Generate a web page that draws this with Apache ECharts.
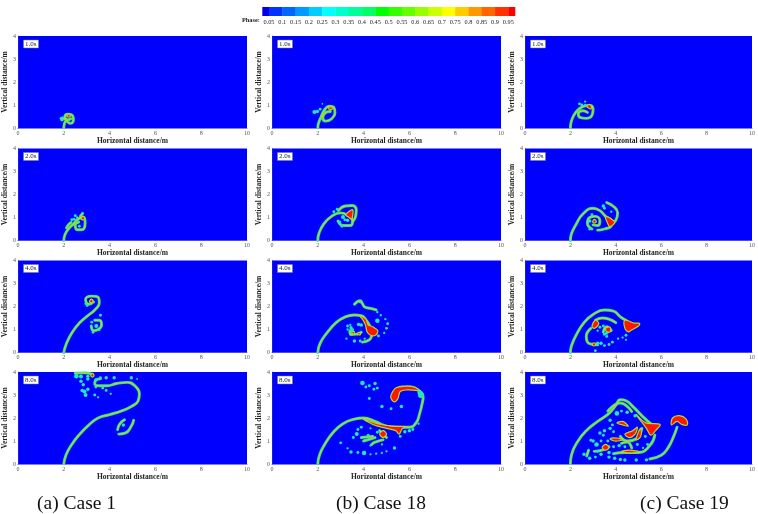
<!DOCTYPE html>
<html><head><meta charset="utf-8">
<style>html,body{margin:0;padding:0;background:#fff}#c{width:758px;height:514px;filter:blur(0.45px)}</style>
<script src="https://cdn.jsdelivr.net/npm/echarts@6/dist/echarts.min.js"></script>
</head><body><div id="c"></div>
<script>
// ---------- shared labels ----------
const xTicks = [0, 2, 4, 6, 8, 10];
const yTicks = [0, 1, 2, 3, 4];
const timeLabels = ['1.0s', '2.0s', '4.0s', '8.0s'];
const caseCaptions = ['(a) Case 1', '(b) Case 18', '(c) Case 19'];
const xName = 'Horizontal distance/m';
const yName = 'Vertical distance/m';
const phaseLevels = [0.05,0.1,0.15,0.2,0.25,0.3,0.35,0.4,0.45,0.5,0.55,0.6,0.65,0.7,0.75,0.8,0.85,0.9,0.95];
const phaseColors = ['#0000e6','#0033ff','#0066ff','#0099ff','#00ccff','#00ffff','#00ffcc','#00ff99','#00ff66','#00ff00','#33ff00','#66ff00','#99ff00','#ccff00','#ffff00','#ffcc00','#ff9900','#ff6600','#ff3300','#ff0000'];

// ---------- Case 1 ----------
const a1Lines = [[[2,0],[2.03,0.2],[2.1,0.3],[2.28,0.2],[2.42,0.35],[2.36,0.56],[2.18,0.6],[2.05,0.48],[2.15,0.34],[2.3,0.4]],[[1.88,0.42],[2.12,0.38]]];
const a1Blobs = [[[2.14,0.56],[2.24,0.6],[2.28,0.5],[2.18,0.48]]];
const a1Drops = [[1.92,0.36,3],[1.95,0.46,2]];

const a2Lines = [[[2,0],[2.05,0.25],[2.2,0.5],[2.42,0.72],[2.65,0.95],[2.88,1.0],[2.93,0.75],[2.78,0.47],[2.58,0.47],[2.5,0.68],[2.65,0.8]],[[2.12,0.55],[2.2,0.68],[2.32,0.78]],[[2.72,1.05],[2.82,1.18]]];
const a2Blobs = [[[2.76,0.98],[2.86,1.06],[2.9,0.94],[2.8,0.9]]];
const a2Drops = [[2.35,0.9,2.5],[2.45,0.92,2.5],[2.5,1.08,2.5],[2.58,1.0,2],[2.68,0.62,2.5]];

const a3Lines = [[[2,0],[2.1,0.35],[2.35,0.85],[2.7,1.3],[3.05,1.6],[3.35,1.85],[3.55,2.15],[3.5,2.4],[3.2,2.45],[2.95,2.3],[3.1,2.1],[3.3,2.2]],[[3.2,1.15],[3.3,0.95],[3.5,1.0],[3.65,1.2],[3.55,1.4],[3.35,1.4]]];
const a3Blobs = [[[3.12,2.22],[3.2,2.32],[3.28,2.24],[3.2,2.16]]];
const a3Drops = [[3.6,1.62,2.5],[3.42,1.15,3.5],[3.22,1.32,2.5],[3.28,0.88,2.5],[3.02,2.04,2.5],[2.95,2.12,2],[3.55,0.98,2]];

const a4Lines = [[[2,0],[2.1,0.4],[2.35,0.85],[2.7,1.3],[3.1,1.7],[3.5,2],[4,2.15],[4.5,2.3],[4.95,2.5],[5.25,2.75],[5.3,3.05],[5.1,3.4],[4.8,3.55],[4.3,3.5],[3.9,3.4],[3.55,3.4],[3.35,3.5],[3.4,3.65],[3.6,3.7]],[[2.5,3.95],[2.9,3.96],[3.25,3.9]],[[4.4,1.3],[4.7,1.35],[4.95,1.65],[5.05,1.9]],[[4.35,1.5],[4.45,1.75],[4.65,1.92]]];
const a4Blobs = [[[3.18,3.84],[3.25,3.94],[3.32,3.86],[3.25,3.78]]];
const a4Drops = [[2.55,3.82,4],[2.75,3.8,3.5],[2.75,3.6,3],[2.85,3.45,3],[2.9,3.15,3.5],[2.95,3,3.5],[3.05,3.25,3],[3.05,3.7,3],[3.05,3.82,3],[3.35,3,2.5],[3.4,3.65,3],[3.4,3.35,2.5],[3.5,2.9,2],[3.6,3.75,2.5],[3.7,3.3,2.5],[3.85,3.75,3],[3.85,3.2,2.5],[4.05,3.05,2],[4.2,3.75,3],[4.95,3.75,3],[5.2,3.7,1.5],[2.8,3.2,3],[4.6,1.7,3]];

// ---------- Case 18 ----------
const b1Lines = [[[2,0],[2.03,0.2],[2.15,0.5],[2.3,0.8],[2.5,0.95],[2.7,0.9],[2.75,0.65],[2.6,0.4],[2.35,0.3],[2.22,0.45],[2.35,0.68],[2.55,0.72]]];
const b1Blobs = [[[2.45,0.86],[2.58,0.92],[2.68,0.86],[2.55,0.8]]];
const b1Drops = [[1.85,0.7,3.5],[1.98,0.72,3],[2.1,0.82,2.5],[2.2,1.05,1.5]];

const b2Lines = [[[2,0],[2.05,0.3],[2.25,0.7],[2.6,1.05],[3,1.2],[3.3,1.1],[3.52,0.85],[3.4,0.65],[3.1,0.65],[2.88,0.85]],[[2.9,1.3],[3.2,1.5],[3.5,1.52],[3.68,1.3],[3.65,1.05],[3.55,0.85]]];
const b2Blobs = [[[3.22,1.12],[3.52,1.34],[3.48,0.94],[3.34,1.02]]];
const b2Drops = [[2.7,1.25,2.5],[2.85,1.36,2.5],[3.1,1.02,3.5],[3.3,0.88,3],[2.95,0.8,3],[3.05,0.62,2.5],[3.18,0.9,2.5]];

const b3Lines = [[[2,0],[2.1,0.4],[2.4,0.85],[2.8,1.3],[3.2,1.55],[3.6,1.63],[3.9,1.6],[4.15,1.35],[4.3,1.1]],[[4.35,0.72],[4.25,0.55],[3.95,0.45]],[[3.6,2.1],[3.85,2.25],[3.95,2.12],[4.05,1.98],[4.3,1.92],[4.55,1.85]],[[3.4,0.95],[3.45,0.78],[3.7,0.8],[3.9,0.88]]];
const b3Blobs = [[[3.8,1.62],[4.1,1.45],[4.2,1.2],[4.4,1.12],[4.62,0.95],[4.52,0.75],[4.3,0.75],[4.15,0.9],[4.08,1.2],[3.95,1.45]],[[3.72,0.78],[3.8,0.88],[3.86,0.78]],[[3.48,0.9],[3.6,0.9],[3.55,0.78]]];
const b3Drops = [[3.3,1.15,2.5],[3.42,1.2,2],[3.78,1.22,3],[3.9,1.2,3],[3.25,0.6,2],[3.6,0.5,3],[3.85,0.5,2.5],[4.05,0.6,2],[4.6,1.38,4],[4.75,1.62,2],[4.6,1.75,2],[4.95,1.45,2],[5.05,1.25,2.5],[5.0,1.05,2.5],[4.9,0.85,2],[4.65,0.72,2.5],[3.85,2.18,2],[3.5,0.98,3.5],[3.45,1.08,3],[3.3,1.0,2]];

const b4Lines = [[[2,0],[2.08,0.4],[2.3,0.85],[2.65,1.35],[3.1,1.75],[3.6,1.95],[4,2],[4.5,1.85],[5,1.65],[5.5,1.6],[6,1.6],[6.3,1.8],[6.45,2.2],[6.55,2.6],[6.6,2.9],[6.4,3.2],[6,3.35],[5.7,3.35],[5.4,3.2],[5.25,2.9]],[[4.85,1.05],[4.5,0.95],[4.35,0.85]],[[5,1.15],[4.7,1.45]],[[4,1.0],[4.5,1.15]],[[3.9,1.15],[4.4,1.2]]];
const b4Blobs = [[[5.2,3.0],[5.4,3.3],[5.8,3.38],[6.2,3.35],[6.5,3.15],[6.3,3.2],[5.9,3.22],[5.6,3.15],[5.5,2.85],[5.35,2.7],[5.2,2.85]],[[4,1.95],[4.6,1.75],[5.2,1.65],[5.9,1.62],[5.7,1.55],[5.55,1.3],[5.4,1.45],[5.0,1.55],[4.4,1.72]],[[4.7,1.3],[4.85,1.45],[5.0,1.3],[4.85,1.15]]];
const b4Drops = [[3.95,3.52,4],[4.1,3.35,2.5],[4.25,3.4,2.5],[4.5,3.5,3],[4.45,3.25,2.5],[4.6,3.3,2.5],[4.25,2.85,2.5],[4.8,2.5,3],[5.2,2.4,2.5],[5.65,2.5,3],[3.9,1.6,2.5],[4.3,1.55,2],[3.75,1.5,2.5],[3.7,1.3,3.5],[3.55,1.15,2.5],[3.0,0.92,2.5],[3.3,0.68,2],[3.45,0.52,3],[3.75,0.5,2.5],[4.02,0.48,4],[4.3,0.42,2],[4.55,0.45,2],[4.8,0.48,2],[5.0,0.55,2],[5.35,0.7,3],[4.8,0.85,2],[4.3,0.8,2],[4.2,1.25,2.5],[4.6,1.38,2.5],[5.6,1.2,2.5],[5.8,1.4,3],[6.0,1.45,3],[6.15,1.5,2.5],[6.4,1.75,2],[6.5,3.0,5],[6.45,3.1,4]];

// ---------- Case 19 ----------
const c1Lines = [[[2,0],[2.03,0.25],[2.15,0.55],[2.35,0.8],[2.6,0.95],[2.85,0.98],[3.0,0.8],[2.95,0.55],[2.7,0.42],[2.45,0.45],[2.35,0.6],[2.55,0.75],[2.75,0.68]]];
const c1Blobs = [[[2.72,0.96],[2.85,1.02],[2.95,0.86],[2.85,0.84]]];
const c1Drops = [[2.4,1.05,2.5],[2.5,1.0,2.5],[2.65,1.15,2],[2.65,1.0,2]];

const c2Lines = [[[2,0],[2.05,0.3],[2.25,0.7],[2.55,1.15],[3,1.4],[3.3,1.3],[3.55,1.05],[3.8,0.85],[3.8,0.65],[3.5,0.5],[3.2,0.45]],[[3.6,1.65],[3.9,1.48],[4.08,1.2],[4,0.88],[3.75,0.65]],[[2.95,0.5],[2.75,0.75],[2.85,1.0],[3.1,1.05],[3.3,0.85],[3.2,0.65],[3,0.68]]];
const c2Blobs = [[[3.55,1.05],[3.95,0.8],[3.75,0.6],[3.65,0.72]],[[2.98,0.82],[3.06,0.92],[3.14,0.82],[3.06,0.76]]];
const c2Drops = [[3.45,1.5,3],[3.5,1.4,2.5],[3.8,1.25,2],[2.85,0.5,2.5],[2.95,1.12,2.5],[2.85,0.85,3]];

const c3Lines = [[[2,0],[2.05,0.3],[2.25,0.75],[2.6,1.3],[3,1.65],[3.5,1.85],[3.9,1.8],[4.2,1.55],[4.45,1.4]],[[3.1,1.4],[3.4,1.5],[3.7,1.45],[4.0,1.3]],[[2.9,1.05],[2.7,0.7],[2.75,0.45],[3,0.35],[3.2,0.33]],[[3.45,0.9],[3.6,1.12],[3.8,0.95]]];
const c3Blobs = [[[4.4,1.4],[4.8,1.28],[5.05,1.27],[5.0,1.15],[4.7,0.98],[4.55,0.9],[4.4,1.05]],[[3.1,1.4],[2.95,1.15],[3.05,1.05],[3.25,1.25]],[[2.98,0.4],[3.1,0.4],[3.1,0.3],[2.98,0.3]],[[3.55,1.05],[3.75,1.1],[3.75,0.9],[3.6,0.9]]];
const c3Drops = [[3.3,1.1,2.5],[3.45,1.15,2.5],[3.2,0.95,2],[3.6,0.85,3],[3.5,0.8,3],[3.6,0.7,2.5],[3.2,0.4,3],[3.35,0.4,3],[3.7,0.35,2.5],[3.5,0.3,2.5],[3.85,0.45,2.5],[4.1,0.6,2],[4.3,0.65,2],[4.45,0.75,2.5],[4.45,0.55,2],[3.1,0.08,2.5]];

const c4Lines = [[[2,0],[2.05,0.4],[2.3,0.95],[2.7,1.45],[3.2,1.85],[3.7,2.2],[4,2.55],[4.2,2.8],[4.45,2.75],[4.8,2.45],[5.2,2.05],[5.6,1.7]],[[3.65,2.3],[4.2,2.65],[4.7,2.28]],[[5.5,0.22],[6,0.38],[6.3,0.7],[6.55,1.2],[6.7,1.6]],[[3.9,0.45],[4.4,0.5],[5,0.5],[5.5,0.8],[5.72,1.25]],[[2.72,0.35],[2.8,0.6]],[[3.05,0.55],[3.4,0.6],[3.7,0.75]],[[4.2,1.2],[4.5,1.0],[4.9,1.1],[5.15,1.55]],[[4.25,0.9],[4.5,0.95],[4.7,0.7]]];
const c4Blobs = [[[4.9,2.15],[5.3,1.8],[5.95,1.72],[5.75,1.45],[5.55,1.25],[5.35,1.55]],[[6.45,1.7],[6.5,2.0],[6.8,2.1],[7.1,1.95],[7.15,1.7],[6.9,1.72],[6.7,1.85]],[[4.25,0.55],[4.6,0.6],[5.05,0.53],[4.6,0.48]],[[3.75,1.1],[4.05,1.13],[4.3,1.05],[3.95,1.0]],[[4.05,1.78],[4.3,1.85],[4.55,1.65],[4.3,1.7]],[[4.4,1.3],[4.75,1.45],[4.95,1.6],[4.85,1.3],[4.6,1.15]],[[4.9,1.05],[5.0,1.4],[5.1,1.55],[5.1,1.2]],[[3.4,0.72],[3.55,0.85],[3.7,0.72],[3.55,0.6]]];
const c4Drops = [[2.6,0.42,3],[2.85,0.25,3],[3.1,0.3,2.5],[3.35,0.42,3],[3.7,0.3,3],[3.95,0.25,3],[4.2,0.2,3],[4.4,0.17,3],[4.9,0.17,3],[5.35,0.18,3],[3,1.0,3],[2.9,1.03,2.5],[3.15,0.85,4],[3.3,1.35,3],[3.45,1.25,2.5],[3.65,1.0,2.5],[3.75,1.55,3],[3.85,1.7,2.5],[3.75,1.9,3],[4.05,2.2,4],[4.25,2.3,2.5],[4.5,2.25,3],[4.85,2.1,3],[3.7,0.5,3],[3.9,0.75,2.5],[4.15,0.8,3],[4.4,0.75,2.5],[3.5,1.45,3],[3.35,1.0,2.5],[5.4,0.85,2.5],[5.3,1.2,2.5],[4.95,0.85,2.5],[3.9,1.4,2.5],[5.2,0.7,2],[3.2,0.55,2.5]];

const panels = [
  [[a1Lines,a1Blobs,a1Drops],[a2Lines,a2Blobs,a2Drops],[a3Lines,a3Blobs,a3Drops],[a4Lines,a4Blobs,a4Drops]],
  [[b1Lines,b1Blobs,b1Drops],[b2Lines,b2Blobs,b2Drops],[b3Lines,b3Blobs,b3Drops],[b4Lines,b4Blobs,b4Drops]],
  [[c1Lines,c1Blobs,c1Drops],[c2Lines,c2Blobs,c2Drops],[c3Lines,c3Blobs,c3Drops],[c4Lines,c4Blobs,c4Drops]]
];

// ---------- layout ----------
const colX = [18, 272, 525];
const colW = [229, 229, 228];
const rowY = [36, 148.5, 260.5, 372];
const rowH = 92;
const serif = '"Liberation Serif","Times New Roman",serif';

const grid = [], xAxis = [], yAxis = [], series = [], title = [];
let gi = 0;

function polygonSeries(idx, blobs) {
  return {
    type: 'custom', xAxisIndex: idx, yAxisIndex: idx, z: 5, silent: true, clip: true,
    coordinateSystem: 'cartesian2d',
    data: blobs.map((b, i) => [b[0][0], b[0][1], i]),
    renderItem: (params, api) => {
      const pts = blobs[api.value(2)].map(p => api.coord(p));
      return { type: 'polygon', shape: { points: pts, smooth: 0.35 },
        style: { fill: '#ff1500', stroke: '#b4d828', lineWidth: 1.2 } };
    }
  };
}

colX.forEach((x0, c) => rowY.forEach((y0, r) => {
  const [lines, blobs, drops] = panels[c][r];
  grid.push({ left: x0, top: y0, width: colW[c], height: rowH, show: true, backgroundColor: '#0000ff', borderWidth: 0 });
  xAxis.push({
    gridIndex: gi, type: 'value', min: 0, max: 10, interval: 2, name: xName, nameLocation: 'middle', nameGap: 9,
    nameTextStyle: { fontFamily: serif, fontSize: 7.5, fontWeight: 'bold', color: '#222' },
    axisLine: { lineStyle: { color: '#2a2ad8', width: 0.6 } }, axisTick: { show: false }, splitLine: { show: false },
    axisLabel: { margin: 2, fontFamily: serif, fontSize: 6, color: '#555', showMinLabel: true, showMaxLabel: true }
  });
  yAxis.push({
    gridIndex: gi, type: 'value', min: 0, max: 4, interval: 1, name: yName, nameLocation: 'middle', nameGap: 9,
    nameTextStyle: { fontFamily: serif, fontSize: 7.5, fontWeight: 'bold', color: '#222' },
    axisLine: { lineStyle: { color: '#2a2ad8', width: 0.6 } }, axisTick: { show: false }, splitLine: { show: false },
    axisLabel: { margin: 2, fontFamily: serif, fontSize: 6, color: '#555', showMinLabel: true, showMaxLabel: true }
  });
  title.push({
    text: timeLabels[r], left: x0 + 5, top: y0 + 4, padding: [0.5, 2], backgroundColor: '#fff', borderColor: '#777', borderWidth: 0.5,
    textStyle: { fontFamily: serif, fontSize: 7, fontWeight: 'normal', color: '#222', lineHeight: 7 }
  });
  lines.forEach(l => {
    series.push({ type: 'line', xAxisIndex: gi, yAxisIndex: gi, data: l, smooth: 0.5, symbol: 'none', silent: true, z: 3,
      lineStyle: { color: '#22e0a0', width: 2.9, cap: 'round' } });
    series.push({ type: 'line', xAxisIndex: gi, yAxisIndex: gi, data: l, smooth: 0.5, symbol: 'none', silent: true, z: 4,
      lineStyle: { color: '#b4d828', width: 1.3, cap: 'round' } });
  });
  series.push(polygonSeries(gi, blobs));
  series.push({ type: 'scatter', xAxisIndex: gi, yAxisIndex: gi, data: drops, silent: true, z: 6,
    symbolSize: v => v[2] * 1.15, itemStyle: { color: '#22e6c0', opacity: 1 } });
  gi++;
}));

// ---------- phase colour bar ----------
const barLeft = 262.3, barW = 252.7;
grid.push({ left: barLeft, top: 7, width: barW, height: 9, show: false });
xAxis.push({
  gridIndex: gi, type: 'value', min: 0.025, max: 0.975,
  axisLine: { show: false }, axisTick: { show: false }, splitLine: { show: false },
  axisLabel: { margin: 3.5, fontFamily: serif, fontSize: 6.3, color: '#222', customValues: phaseLevels,
    formatter: v => String(+v.toFixed(2)), hideOverlap: false }
});
yAxis.push({ gridIndex: gi, type: 'value', min: 0, max: 1, show: false });
const bandEdges = [0.025].concat(phaseLevels, [0.975]);
series.push({
  type: 'custom', xAxisIndex: gi, yAxisIndex: gi, silent: true, clip: false, coordinateSystem: 'cartesian2d',
  data: phaseColors.map((col, i) => [bandEdges[i], bandEdges[i + 1], i]),
  renderItem: (params, api) => {
    const a = api.coord([api.value(0), 1]), b = api.coord([api.value(1), 0]);
    return { type: 'rect', shape: { x: a[0], y: a[1], width: b[0] - a[0] + 0.3, height: b[1] - a[1] },
      style: { fill: phaseColors[api.value(2)] } };
  }
});

const graphic = [
  { type: 'text', left: 242, top: 17, style: { text: 'Phase:', font: 'bold 6.3px ' + serif, fill: '#222' } },
  { type: 'text', left: 37, top: 494, style: { text: caseCaptions[0], font: '19.5px ' + serif, fill: '#111' } },
  { type: 'text', left: 336, top: 494, style: { text: caseCaptions[1], font: '19.5px ' + serif, fill: '#111' } },
  { type: 'text', left: 640, top: 494, style: { text: caseCaptions[2], font: '19.5px ' + serif, fill: '#111' } }
];

const chart = echarts.init(document.getElementById('c'), null, { renderer: 'canvas' });
chart.setOption({ animation: false, backgroundColor: '#fff', grid, xAxis, yAxis, series, title, graphic });
</script></body></html>
